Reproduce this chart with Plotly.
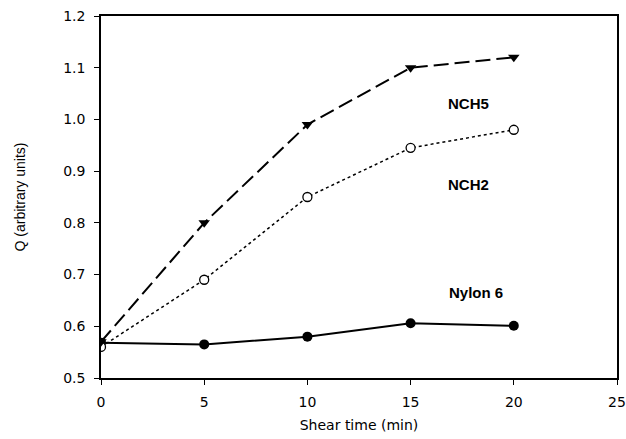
import plotly.graph_objects as go

shear_time = [0, 5, 10, 15, 20]
nch5 = [0.57, 0.80, 0.99, 1.10, 1.12]
nch2 = [0.56, 0.69, 0.85, 0.945, 0.98]
nylon6 = [0.568, 0.565, 0.58, 0.606, 0.601]

labels = ["NCH5", "NCH2", "Nylon 6"]
label_x = [17.8, 17.8, 18.15]
label_y = [1.031, 0.875, 0.666]

TICK_FONT = dict(family="DejaVu Sans", size=14, color="black")

fig = go.Figure()
fig.add_trace(go.Scatter(x=shear_time, y=nylon6, mode="lines+markers",
                         line=dict(color="black", width=2),
                         marker=dict(symbol="circle", size=10, color="black")))
fig.add_trace(go.Scatter(x=shear_time, y=nch2, mode="lines+markers",
                         line=dict(color="black", width=1.5, dash="dot"),
                         marker=dict(symbol="circle", size=9, color="white",
                                     line=dict(color="black", width=1.3))))
fig.add_trace(go.Scatter(x=shear_time, y=nch5, mode="lines+markers",
                         line=dict(color="black", width=2, dash="15px,6px"),
                         marker=dict(symbol="triangle-down", size=10, color="black")))

for t, x, y in zip(labels, label_x, label_y):
    fig.add_annotation(x=x, y=y, text="<b>" + t + "</b>", showarrow=False,
                       font=dict(family="Liberation Sans, Arial", size=15, color="black"))

fig.update_layout(
    width=626, height=439,
    margin=dict(l=101, r=9, t=16, b=61, autoexpand=False),
    paper_bgcolor="white", plot_bgcolor="white",
    showlegend=False,
    font=dict(family="Liberation Sans, Arial", size=14, color="black"),
)
fig.update_xaxes(range=[0, 25], tickvals=[0, 5, 10, 15, 20, 25],
                 automargin=False,
                 showgrid=False, zeroline=False, showline=True, linecolor="black",
                 linewidth=1.5, mirror=True, ticks="outside", ticklen=5,
                 tickcolor="black", tickfont=TICK_FONT, ticklabelstandoff=5,
                 title=dict(text="Shear time (min)",
                            font=dict(family="DejaVu Sans", size=14), standoff=12))
fig.update_yaxes(range=[0.5, 1.2], tickvals=[0.5, 0.6, 0.7, 0.8, 0.9, 1.0, 1.1, 1.2],
                 tickformat=".1f", automargin=False,
                 showgrid=False, zeroline=False, showline=True, linecolor="black",
                 linewidth=1.5, mirror=True, ticks="outside", ticklen=5,
                 tickcolor="black", tickfont=TICK_FONT, ticklabelstandoff=6,
                 title=dict(text="Q (arbitrary units)",
                            font=dict(family="Liberation Sans, Arial", size=14), standoff=34))

fig.write_html("out.html")
